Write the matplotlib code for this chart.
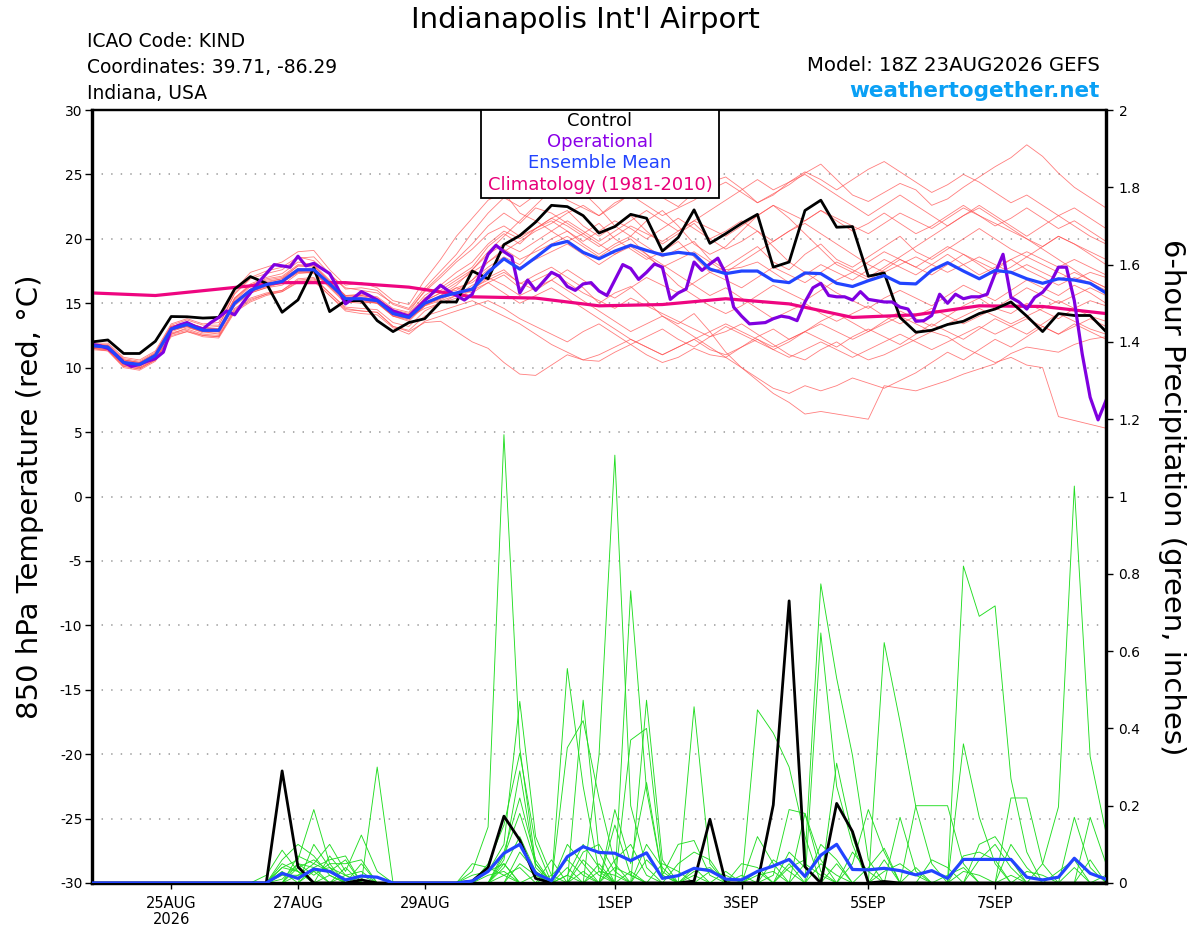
import numpy as np
import matplotlib
matplotlib.use("Agg")
import matplotlib.pyplot as plt
from matplotlib.patches import Rectangle

# ---------------- data (6-hourly from 18Z 23AUG2026, 0..384 h) ----------------
tick_hours = [30, 78, 126, 198, 246, 294, 342]
tick_labels = ["25AUG\n2026", "27AUG", "29AUG", "1SEP", "3SEP", "5SEP", "7SEP"]

control_t = [12.0, 12.15, 11.1, 11.1, 12.05, 13.97, 13.95, 13.85, 13.9, 16.1,
             17.07, 16.55, 14.3, 15.26, 17.75, 14.35, 15.2, 15.2, 13.65, 12.8,
             13.5, 13.8, 15.1, 15.1, 17.5, 16.9, 19.55, 20.25, 21.3, 22.6,
             22.5, 21.8, 20.45, 20.95, 21.9, 21.6, 19.05, 20.1, 22.25, 19.65,
             20.4, 21.2, 21.9, 17.8, 18.2, 22.2, 23.0, 20.9, 20.95, 17.1,
             17.35, 13.9, 12.75, 12.9, 13.35, 13.6, 14.2, 14.55, 15.1, 14.0,
             12.8, 14.2, 14.05, 14.05, 12.8]

mean_t = [11.7, 11.6, 10.4, 10.25, 10.95, 13.0, 13.35, 12.9, 12.9, 15.0,
          16.0, 16.45, 16.7, 17.6, 17.6, 16.5, 15.35, 15.35, 15.2, 14.2,
          13.9, 15.0, 15.5, 15.8, 16.1, 17.4, 18.45, 17.65, 18.55, 19.5,
          19.8, 18.95, 18.45, 19.05, 19.5, 19.1, 18.75, 18.95, 18.8, 17.65,
          17.3, 17.5, 17.5, 16.75, 16.6, 17.35, 17.3, 16.55, 16.3, 16.75,
          17.15, 16.55, 16.5, 17.55, 18.15, 17.5, 16.9, 17.55, 17.4, 16.9,
          16.55, 16.9, 16.8, 16.55, 15.8]

# operational run is 3-hourly
oper_t = [11.8, 11.7, 11.5, 11.0, 10.4, 10.1, 10.25, 10.5, 10.7, 11.2,
          13.0, 13.3, 13.5, 13.2, 13.0, 13.5, 13.9, 14.4, 14.1, 15.0,
          15.8, 16.6, 17.3, 18.0, 17.9, 17.8, 18.65, 17.9, 18.1, 17.7,
          17.3, 16.2, 14.95, 15.4, 15.9, 15.6, 15.25, 14.8, 14.4, 14.2,
          14.0, 14.6, 15.2, 15.8, 16.4, 15.95, 15.6, 15.25, 15.7, 17.3,
          18.8, 19.5, 19.0, 18.6, 15.8, 16.8, 16.0, 16.7, 17.4, 17.1,
          16.3, 16.0, 16.5, 16.6, 15.95, 15.6, 16.8, 18.0, 17.7, 16.85,
          17.4, 18.05, 17.8, 15.3, 15.8, 16.1, 18.2, 17.55, 18.05, 18.5,
          17.3, 14.7, 14.0, 13.4, 13.45, 13.5, 13.8, 14.0, 13.9, 13.65,
          15.1, 16.2, 16.55, 15.6, 15.5, 15.5, 15.25, 15.9, 15.3, 15.2,
          15.1, 15.1, 14.7, 14.55, 13.6, 13.65, 14.05, 15.7, 15.0, 15.7,
          15.35, 15.5, 15.5, 15.7, 17.3, 18.8, 15.45, 15.1, 14.55, 15.45,
          15.85, 16.6, 17.8, 17.8, 15.2, 11.05, 7.7, 5.95, 7.45]

# climatology, daily at 18Z
clim_t = [15.8, 15.6, 16.1, 16.6, 16.6, 16.25, 15.5, 15.4, 14.8, 14.9,
          15.35, 14.95, 13.9, 14.1, 14.8, 14.75, 14.2]

members_t = [
    [11.8,11.7,10.5,10.3,11.0,13.2,13.5,13.1,13.2,15.8,17.0,17.5,17.8,18.6,18.3,17.2,16.2,16.0,15.8,15.0,14.6,
     16.2,17.5,18.8,20.5,22.0,23.2,22.5,23.4,23.8,23.0,22.4,21.8,22.6,23.5,24.1,23.2,22.5,23.6,24.4,24.8,
     23.9,22.8,23.5,24.2,25.1,25.8,24.6,23.4,22.9,23.6,24.3,23.8,22.6,23.1,24.0,24.8,25.6,26.3,27.3,26.4,25.1,24.0,23.2,22.4],
    [11.5,11.4,10.2,10.0,10.7,12.7,13.0,12.6,12.5,14.6,15.4,15.8,16.0,16.8,16.9,15.8,14.6,14.4,14.3,13.2,12.8,
     13.5,13.6,12.8,12.0,11.5,10.4,9.5,9.4,10.2,11.0,10.6,10.5,11.2,11.8,11.0,10.4,10.8,11.5,11.0,10.8,
     11.6,12.4,13.0,12.2,12.8,13.6,14.2,13.5,12.8,13.6,14.4,13.8,13.2,14.0,14.8,15.4,14.6,14.2,15.0,14.4,13.8,14.6,15.2,14.8],
    [11.6,11.5,10.3,10.1,10.8,12.8,13.2,12.7,12.7,14.8,15.8,16.2,16.4,17.3,17.4,16.2,15.0,15.2,15.0,14.0,13.7,
     14.8,15.2,15.6,16.0,17.0,17.6,16.5,17.2,17.8,17.0,16.2,15.0,15.8,16.3,15.2,14.0,13.4,14.2,12.8,11.2,
     10.0,9.0,8.0,7.3,6.4,6.6,6.4,6.2,6.0,8.6,8.4,8.2,8.6,9.0,9.5,9.9,10.3,11.1,11.6,11.4,11.2,11.8,12.2,12.4],
    [11.7,11.6,10.5,10.2,11.0,13.1,13.4,12.9,12.8,15.1,16.1,16.5,16.8,17.6,17.7,16.6,15.5,15.3,15.0,14.1,13.8,
     15.0,15.4,16.2,15.8,16.6,17.2,16.2,16.8,17.4,16.6,15.8,15.2,14.6,15.4,14.8,14.2,13.6,13.0,12.4,12.8,
     13.4,12.6,11.8,11.0,10.6,11.4,12.0,11.2,10.6,11.0,11.6,12.2,12.8,12.4,11.6,11.0,10.4,10.8,10.2,10.0,6.2,5.9,5.6,5.3],
    [11.9,11.9,10.8,10.6,11.3,13.4,13.8,13.4,13.5,16.0,17.4,17.8,18.2,19.0,19.1,17.6,16.4,16.6,16.2,15.2,14.9,
     16.8,18.4,20.2,21.6,23.0,23.6,22.0,21.4,20.6,19.8,20.4,21.2,20.0,19.2,18.4,19.0,19.8,18.6,17.4,17.8,
     18.6,19.4,18.2,17.6,18.8,19.6,18.4,17.8,18.6,19.4,20.2,19.0,18.4,19.2,20.0,20.8,20.0,19.2,18.6,19.4,20.2,19.6,18.8,18.0],
    [11.6,11.4,10.1,9.9,10.6,12.6,13.1,12.8,12.6,14.9,15.9,16.3,16.7,17.5,17.3,16.3,15.1,15.0,15.1,14.0,13.6,
     14.8,15.6,16.4,17.6,19.0,20.2,21.4,22.6,23.8,24.5,23.6,22.4,21.0,20.2,21.4,22.2,21.0,19.6,18.8,19.4,
     20.6,21.8,22.6,21.6,20.4,19.2,18.0,17.4,18.2,19.0,18.4,17.8,18.6,19.4,18.8,18.0,17.2,17.8,18.6,18.0,17.4,16.8,17.4,17.0],
    [11.7,11.7,10.6,10.4,11.1,13.0,13.2,12.8,12.9,15.2,16.3,16.7,16.9,17.9,17.8,16.5,15.4,15.6,15.4,14.4,14.1,
     15.2,15.8,16.0,16.8,17.8,18.6,18.0,19.2,20.0,20.6,19.6,18.8,19.6,20.2,19.4,18.6,19.2,19.8,18.4,17.6,
     17.8,18.2,17.4,16.6,17.2,18.0,17.4,16.8,17.6,18.4,17.8,17.2,18.0,18.8,18.0,17.2,17.8,18.4,17.6,17.0,16.4,17.0,16.6,16.0],
    [11.4,11.3,10.0,9.8,10.5,12.4,12.8,12.4,12.3,14.3,15.1,15.6,15.9,16.6,16.7,15.6,14.4,14.2,14.1,13.1,12.6,
     13.6,14.0,14.4,14.8,15.2,14.6,13.8,13.2,12.6,12.0,12.8,13.4,12.6,11.8,12.4,13.0,12.2,11.6,12.4,13.2,
     12.6,12.0,11.4,12.0,12.8,12.2,11.6,12.4,13.0,12.4,11.8,12.6,13.4,12.8,12.2,13.0,13.8,13.2,12.6,13.4,14.2,13.6,13.0,12.6],
    [11.8,11.6,10.4,10.2,10.9,13.0,13.4,13.0,12.8,15.0,15.8,16.2,16.6,17.4,17.5,16.4,15.2,15.1,15.0,14.0,13.8,
     15.2,15.8,16.6,17.4,18.2,19.0,19.8,20.6,21.2,22.0,22.6,21.8,22.8,23.4,22.6,21.8,22.4,23.0,23.8,24.4,
     23.6,22.8,23.4,24.4,25.2,24.6,23.8,24.6,25.4,26.0,25.2,24.4,23.6,24.2,25.0,24.4,23.6,22.8,23.4,22.6,21.8,22.4,21.6,20.8],
    [11.7,11.5,10.3,10.1,10.9,12.9,13.3,12.9,12.8,15.1,16.1,16.6,16.9,17.7,17.6,16.6,15.4,15.3,15.2,14.3,14.0,
     15.4,16.2,17.0,17.8,19.4,20.4,19.6,20.8,21.6,22.2,21.0,20.2,21.0,21.8,20.6,19.6,20.4,21.2,20.0,19.2,
     19.8,20.6,19.4,18.2,17.4,16.6,15.8,15.2,14.6,15.4,16.0,15.4,14.8,15.6,16.4,15.8,15.2,16.0,16.8,16.2,15.6,16.4,15.8,15.0],
    [11.5,11.4,10.2,10.0,10.6,12.6,12.9,12.5,12.4,14.5,15.3,15.7,16.0,16.9,17.0,15.8,14.7,14.6,14.5,13.5,13.2,
     14.4,15.0,15.6,16.4,17.0,16.4,15.6,16.2,16.8,16.0,15.2,14.4,13.6,12.8,13.4,14.0,13.2,12.4,11.6,10.8,
     10.0,9.2,8.4,8.0,8.6,8.2,8.6,9.2,8.8,8.4,9.0,9.6,10.4,11.2,10.6,11.4,12.2,11.6,12.4,13.2,12.6,13.4,12.8,12.2],
    [11.8,11.8,10.7,10.5,11.2,13.3,13.7,13.3,13.3,15.7,16.9,17.3,17.6,18.5,18.6,17.3,16.1,16.2,16.0,14.9,14.5,
     15.9,17.0,18.2,19.2,20.4,21.0,20.2,20.8,21.4,20.6,19.8,20.6,21.4,20.8,20.0,20.8,21.6,20.8,20.0,20.6,
     21.4,20.6,19.8,20.6,21.4,22.2,21.4,20.6,21.2,22.0,21.2,20.4,21.0,21.8,22.6,21.8,21.0,21.6,22.4,21.6,20.8,21.4,20.6,19.8],
    [11.6,11.6,10.4,10.2,10.9,13.0,13.3,12.9,12.9,15.0,16.0,16.4,16.6,17.5,17.5,16.4,15.3,15.4,15.2,14.2,13.9,
     14.9,15.3,15.8,16.2,16.8,17.4,16.6,16.0,16.8,17.6,16.8,16.0,15.4,16.2,17.0,16.4,15.8,16.6,17.4,16.8,
     16.2,17.0,17.8,17.2,16.6,17.4,18.2,17.6,17.0,17.8,18.6,19.4,20.2,21.0,21.8,22.4,21.6,20.8,20.0,19.2,18.4,17.6,16.8,16.2],
    [11.9,11.7,10.6,10.4,11.1,13.2,13.5,13.1,13.0,15.4,16.5,17.0,17.3,18.2,18.0,16.8,15.6,15.7,15.5,14.6,14.3,
     16.0,17.2,18.4,19.6,21.0,22.0,21.2,22.4,22.0,21.2,20.4,19.6,18.8,19.6,18.8,18.0,17.2,16.4,15.6,16.2,
     15.4,14.6,13.8,14.4,15.0,14.2,13.6,14.2,14.8,14.0,13.4,14.0,14.6,14.0,13.4,14.0,14.6,15.4,16.2,15.6,15.0,15.6,16.2,15.6],
    [11.6,11.5,10.3,10.2,10.8,12.9,13.2,12.8,12.8,15.0,15.9,16.3,16.6,17.4,17.4,16.3,15.2,15.2,15.1,14.1,13.8,
     14.8,15.4,15.8,16.8,18.2,19.2,18.4,19.0,19.6,20.2,19.4,18.6,19.4,20.0,18.8,17.6,16.4,15.6,14.8,14.2,
     14.8,15.6,16.4,15.8,15.2,16.0,16.8,17.4,16.8,17.6,18.4,17.8,17.2,18.0,18.8,18.2,17.6,18.4,19.0,18.4,17.8,18.4,17.8,17.2],
    [11.5,11.3,10.1,9.9,10.6,12.5,12.8,12.5,12.4,14.4,15.2,15.7,15.9,16.7,16.8,15.6,14.5,14.4,14.3,13.2,12.9,
     14.0,14.4,14.8,15.2,14.6,14.0,13.4,12.6,11.8,11.2,10.6,11.0,11.6,12.2,11.6,11.0,11.6,12.2,12.8,13.4,
     12.8,12.2,11.6,12.2,12.8,13.4,12.8,12.2,12.8,13.4,14.0,13.4,12.8,13.4,14.0,14.6,14.0,13.4,14.0,14.6,15.2,14.6,14.0,13.6],
    [11.7,11.6,10.5,10.3,11.0,13.1,13.5,13.1,13.0,15.3,16.4,16.8,17.0,17.9,17.9,16.7,15.5,15.5,15.3,14.4,14.1,
     15.4,16.0,16.8,17.6,18.8,19.6,19.0,19.8,20.6,21.4,20.6,19.8,20.6,21.4,22.2,21.4,20.6,21.4,22.2,23.0,
     23.8,24.6,23.8,24.4,25.0,24.2,23.4,22.6,21.8,22.6,23.4,22.6,21.8,21.0,21.8,22.6,21.8,21.0,20.2,21.0,21.8,21.0,20.2,19.6],
    [11.6,11.5,10.4,10.2,10.9,12.9,13.3,12.9,12.8,15.1,16.0,16.5,16.7,17.6,17.6,16.5,15.3,15.3,15.2,14.2,13.9,
     15.0,15.6,16.2,16.6,17.6,18.4,17.8,18.4,19.0,19.6,18.8,18.0,18.8,19.4,18.6,17.8,18.4,19.0,18.2,17.4,
     18.2,19.0,19.8,20.6,21.2,20.4,19.6,18.8,18.0,17.4,18.0,18.6,18.0,17.4,18.0,18.6,18.0,17.4,18.0,17.4,16.8,17.4,16.8,16.2],
    [11.7,11.6,10.4,10.2,10.9,13.0,13.3,12.9,12.9,15.0,15.9,16.4,16.7,17.5,17.6,16.4,15.3,15.3,15.1,14.2,13.9,
     14.6,15.0,15.4,16.0,16.6,15.8,15.0,15.6,16.2,15.4,14.6,13.8,13.0,12.2,11.6,11.0,11.6,12.2,11.4,11.0,
     11.6,12.2,11.4,10.8,11.4,12.0,11.4,10.8,11.4,12.0,12.6,12.0,11.4,12.0,12.6,13.2,12.6,13.2,13.8,13.2,12.6,13.2,13.8,13.2],
    [11.8,11.7,10.6,10.4,11.1,13.2,13.5,13.0,13.0,15.4,16.4,16.9,17.1,18.0,17.9,16.7,15.6,15.6,15.4,14.5,14.2,
     15.6,16.4,17.4,18.2,19.6,20.6,20.0,20.8,21.6,21.0,20.2,19.4,20.2,21.0,20.4,19.8,20.6,21.4,20.8,20.2,
     21.0,21.8,22.6,22.0,21.4,22.2,21.6,21.0,20.4,21.2,22.0,21.4,20.8,21.6,22.4,21.8,21.2,20.6,20.0,19.4,20.2,19.6,19.0,18.4],
]

control_p = [0, 0, 0, 0, 0, 0, 0, 0, 0, 0,
             0, 0, 0.29, 0.042, 0, 0, 0, 0.008, 0, 0,
             0, 0, 0, 0, 0.005, 0.04, 0.173, 0.111, 0.012, 0,
             0, 0, 0, 0, 0, 0, 0, 0, 0.005, 0.165,
             0, 0, 0, 0.202, 0.73, 0.042, 0, 0.206, 0.133, 0,
             0.004, 0, 0, 0, 0, 0, 0, 0, 0, 0,
             0, 0, 0, 0, 0]

mean_p = [0, 0, 0, 0, 0, 0, 0, 0, 0, 0,
          0, 0, 0.025, 0.012, 0.036, 0.03, 0.008, 0.018, 0.015, 0,
          0, 0, 0, 0, 0.005, 0.03, 0.077, 0.10, 0.025, 0.006,
          0.068, 0.094, 0.079, 0.077, 0.058, 0.078, 0.012, 0.019, 0.038, 0.032,
          0.01, 0.008, 0.03, 0.044, 0.061, 0.017, 0.072, 0.10, 0.035, 0.034,
          0.038, 0.032, 0.021, 0.032, 0.012, 0.061, 0.061, 0.061, 0.061, 0.015,
          0.008, 0.015, 0.064, 0.025, 0.01]

members_p = [
    [0,0,0,0,0,0,0,0,0,0, 0,.02,.085,.03,0,0,0,0,0,0, 0,0,0,0,.03,.145,1.16,.35,.05,0,
     .02,0,0,.04,.02,0,0,0,.02,0, 0,0,0,0,0,0,.05,.02,0,0, 0,0,0,0,0,.03,.02,0,0,0, 0,0,0,0,0],
    [0,0,0,0,0,0,0,0,0,0, 0,0,.04,.06,.19,.05,0,0,0,0, 0,0,0,0,0,.03,.1,.47,.12,.02,
     0,0,.33,1.107,.2,.04,0,0,0,0, 0,0,.03,0,0,0,0,0,0,0, .06,0,0,0,0,0,0,0,0,0, 0,0,.04,0,0],
    [0,0,0,0,0,0,0,0,0,0, 0,0,0,.02,.05,.1,.03,.124,.03,0, 0,0,0,0,0,0,.06,.29,.04,0,
     0,.473,.08,0,.756,.24,.02,0,0,0, 0,0,0,0,.04,.06,.774,.53,.33,.06, 0,0,0,0,0,0,0,0,.02,0, 0,0,0,0,0],
    [0,0,0,0,0,0,0,0,0,0, 0,0,0,0,.04,.06,.07,0,.30,0, 0,0,0,0,0,.05,.15,.336,.1,0,
     .555,.25,.03,0,0,0,0,0,0,0, 0,0,.448,.388,.30,.12,0,0,0,0, 0,0,.04,0,0,.82,.69,.717,.27,.08, 0,0,0,0,0],
    [0,0,0,0,0,0,0,0,0,0, 0,0,.05,.03,0,.07,.02,0,0,0, 0,0,0,0,0,0,.05,0,.02,0,
     .35,.42,.22,.05,0,.473,.06,0,.456,.05, 0,0,0,0,0,0,.647,.25,.1,0, .622,.417,.197,.05,0,0,0,0,0,0, 0,0,0,0,0],
    [0,0,0,0,0,0,0,0,0,0, 0,0,.03,0,.1,.04,0,.05,0,0, 0,0,0,0,.05,.04,.02,0,0,.06,
     0,.06,.02,0,.37,.40,.03,0,0,0, 0,0,0,.02,.19,.18,.06,0,0,0, 0,0,0,0,0,0,0,0,0,0, .05,.197,1.027,.327,.13],
    [0,0,0,0,0,0,0,0,0,0, 0,0,0,.04,.06,.03,.06,0,0,0, 0,0,0,0,0,0,.04,.12,.03,0,
     0,0,0,.19,.05,.26,.02,.1,.11,.02, 0,0,0,0,0,0,0,0,.05,.19, .08,0,0,0,0,.36,.17,.05,0,0, 0,0,0,0,0],
    [0,0,0,0,0,0,0,0,0,0, 0,0,.06,.1,.07,.02,0,0,0,0, 0,0,0,0,0,0,.08,.22,.06,0,
     0,.08,.1,.03,0,0,0,0,0,0, 0,.05,.04,0,.05,0,0,.31,.12,0, 0,0,.2,.2,.2,.05,0,0,0,0, 0,0,0,.17,.05],
    [0,0,0,0,0,0,0,0,0,0, 0,0,0,.05,.02,.05,.05,.06,0,0, 0,0,0,0,0,.02,.03,0,0,0,
     .1,.05,0,.15,.02,0,0,.05,.08,.06, 0,0,0,0,0,.18,.03,0,0,0, 0,.17,.03,0,0,0,0,0,.22,.22, .05,0,0,0,0],
    [0,0,0,0,0,0,0,0,0,0, 0,0,.02,.02,.03,0,.04,0,0,0, 0,0,0,0,0,0,0,.05,.02,0,
     .04,0,.05,0,0,.1,.04,0,0,0, .03,0,.12,.05,0,0,0,0,0,.04, .09,0,0,0,0,0,.06,.1,.04,0, 0,0,.17,.04,0],
    [0,0,0,0,0,0,0,0,0,0, 0,0,.04,.03,0,.02,0,.02,0,0, 0,0,0,0,0,0,.07,.18,.05,0,
     0,.03,0,.06,.1,.02,0,0,.03,.04, 0,0,0,0,.08,.04,0,.05,0,0, 0,0,0,.06,.04,0,.1,.12,.06,0, 0,0,0,0,.02],
    [0,0,0,0,0,0,0,0,0,0, 0,0,0,.07,.05,.03,0,0,0,0, 0,0,0,0,.02,.03,.05,0,0,.02,
     .06,.02,0,0,0,0,.05,.03,0,0, 0,.02,0,.06,.03,0,0,0,.08,.03, 0,0,0,0,0,.07,.08,.06,0,0, 0,.03,.06,0,0],
    [0,0,0,0,0,0,0,0,0,0, 0,0,0,0,.03,.04,.02,0,0,0, 0,0,0,0,0,0,0,.08,.03,0,
     0,0,.03,.02,0,.06,.02,0,0,.03, .02,0,0,0,0,0,.1,.06,0,0, .03,.05,.02,0,0,0,0,0,0,.03, .02,0,0,0,0],
    [0,0,0,0,0,0,0,0,0,0, 0,0,.01,.05,.04,0,.02,.03,0,0, 0,0,0,0,0,0,.02,.04,0,0,
     .02,.1,.04,0,.03,0,0,0,.04,0, 0,0,.02,.03,0,.05,.02,0,0,0, 0,0,0,0,.02,.04,0,0,.1,.04, 0,0,0,.06,0],
]

# ---------------- styling ----------------
C_RED = "#ff5252"
C_GREEN = "#22dd22"
C_PURPLE = "#8000e0"
C_BLUE = "#2244ff"
C_PINK = "#ee0580"
C_BLACK = "#000000"

W, H = 1200, 927
fig = plt.figure(figsize=(W / 100, H / 100), dpi=100)
L, R, T, B = 92, 1106, 110, 883
ax = fig.add_axes([L / W, 1 - B / H, (R - L) / W, (B - T) / H])
ax2 = ax.twinx()

# gridlines (temperature axis, every 5 C)
for v in range(-25, 30, 5):
    ax.axhline(v, color="#a8a8a8", lw=1.3, ls=(0, (0.8, 4.5)), zorder=0)

h6 = lambda n: np.arange(n) * 6
for m in members_t:
    ax.plot(h6(len(m)), m, color=C_RED, lw=0.6, alpha=0.75, zorder=1)

ax.plot(np.arange(len(clim_t)) * 24, clim_t, color=C_PINK, lw=2.3, zorder=3)
ax.plot(h6(len(control_t)), control_t, color=C_BLACK, lw=2.0, zorder=4)
ax.plot(np.arange(len(oper_t)) * 3, oper_t, color=C_PURPLE, lw=2.3, zorder=5)
ax.plot(h6(len(mean_t)), mean_t, color=C_BLUE, lw=2.3, zorder=6)

for m in members_p:
    ax2.plot(h6(len(m)), m, color=C_GREEN, lw=0.65, zorder=1)
ax2.plot(h6(len(control_p)), control_p, color=C_BLACK, lw=2.0, zorder=4)
ax2.plot(h6(len(mean_p)), mean_p, color=C_BLUE, lw=2.3, zorder=5)

ax.set_xlim(0, 384)
ax.set_ylim(-30, 30)
ax2.set_ylim(0, 2)

ax.set_yticks(range(-30, 31, 5))
ax.set_yticklabels([str(v) for v in range(-30, 31, 5)])
ax2.set_yticks(np.arange(0, 2.01, 0.2))
ax2.set_yticklabels(["0", "0.2", "0.4", "0.6", "0.8", "1", "1.2", "1.4", "1.6", "1.8", "2"])
ax.set_xticks(tick_hours)
ax.set_xticklabels(tick_labels)

ax.tick_params(axis="y", direction="out", length=5, width=1, labelsize=10, pad=2)
ax2.tick_params(axis="y", direction="out", length=5, width=1, labelsize=10, pad=4)
ax.tick_params(axis="x", direction="out", length=4, width=1, labelsize=10.5, pad=5)
for lab in ax.get_xticklabels():
    lab.set_linespacing(1.1)

for a in (ax, ax2):
    for s in ("left", "right", "bottom"):
        a.spines[s].set_linewidth(2.3)
    a.spines["top"].set_linewidth(1.6)

# axis titles
fig.text(30 / W, 1 - 497 / H, "850 hPa Temperature (red, °C)", rotation=90,
         ha="center", va="center", fontsize=21)
fig.text(1172 / W, 1 - 497 / H, "6-hour Precipitation (green, inches)", rotation=270,
         ha="center", va="center", fontsize=21)

# header texts
fig.text(585 / W, 1 - 28 / H, "Indianapolis Int'l Airport", ha="center", va="baseline", fontsize=21)
fig.text(87 / W, 1 - 47 / H, "ICAO Code: KIND", ha="left", va="baseline", fontsize=13.5)
fig.text(87 / W, 1 - 73 / H, "Coordinates: 39.71, -86.29", ha="left", va="baseline", fontsize=13.5)
fig.text(87 / W, 1 - 99 / H, "Indiana, USA", ha="left", va="baseline", fontsize=13.5)
fig.text(1100 / W, 1 - 71 / H, "Model: 18Z 23AUG2026 GEFS", ha="right", va="baseline", fontsize=14.2)
fig.text(1100 / W, 1 - 97 / H, "weathertogether.net", ha="right", va="baseline",
         fontsize=15.5, fontweight="bold", color="#0aa0f5")

# legend box
bx0, bx1, by0, by1 = 481, 719, 110, 198
rect = Rectangle((bx0 / W, 1 - by1 / H), (bx1 - bx0) / W, (by1 - by0) / H,
                 transform=fig.transFigure, facecolor="white", edgecolor="black",
                 lw=1.3, zorder=10)
fig.add_artist(rect)
leg_items = [("Control", C_BLACK, 121), ("Operational", "#8a00e8", 142),
             ("Ensemble Mean", C_BLUE, 163), ("Climatology (1981-2010)", "#e8007a", 185)]
for txt, col, yc in leg_items:
    fig.text(600 / W, 1 - yc / H, txt, ha="center", va="center", fontsize=13,
             color=col, zorder=11)

fig.savefig("out.png", dpi=100)
